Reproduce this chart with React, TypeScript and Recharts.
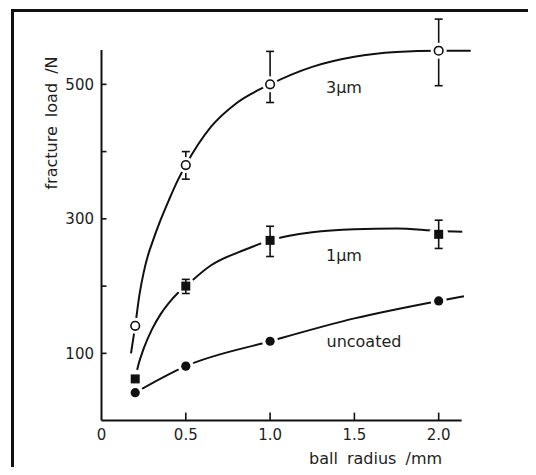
import React from 'react';
import { ComposedChart, Line, XAxis, YAxis, ErrorBar, ReferenceLine } from 'recharts';

// ---- data ----
const xTicks = [0, 0.5, 1.0, 1.5, 2.0];
const xTickLabels = ['0', '0.5', '1.0', '1.5', '2.0'];
const yTicks = [100, 200, 300, 400, 500];
const yTickLabels = ['100', '', '300', '', '500'];

const radius = [0.2, 0.5, 1.0, 2.0];
const load3um = [141, 380, 500, 550];
const err3um: (number[] | null)[] = [null, [21, 20], [27, 49], [52, 47]];
const load1um = [62, 200, 268, 277];
const err1um: (number[] | null)[] = [null, [11, 10], [24, 21], [21, 21]];
const loadUncoated = [41.5, 81, 118, 178];

// hand-drawn fit curves
const fit3umX = [0.175, 0.2, 0.225, 0.25, 0.275, 0.3, 0.35, 0.4, 0.45, 0.5, 0.65, 0.8, 1.0, 1.25, 1.5, 1.75, 2.0, 2.19];
const fit3umY = [100, 141, 187, 220, 245, 264, 298, 328, 356, 380, 437, 472, 500, 526, 541, 548, 550, 550];
const fit1umX = [0.2, 0.22, 0.25, 0.3, 0.35, 0.4, 0.45, 0.5, 0.65, 0.85, 1.0, 1.25, 1.5, 1.75, 2.0, 2.14];
const fit1umY = [62, 84, 107, 136, 158, 175, 189, 200, 231, 254, 268, 280, 284.5, 285.5, 282, 281];
const fitUncX = [0.2, 0.5, 1.0, 1.5, 2.0, 2.15];
const fitUncY = [41.5, 81, 118, 152, 178, 185];

const xAxisEnd = 2.136;
const yAxisEnd = 551;

// ---- tables for the library ----
const pts = (ys: number[], errs?: (number[] | null)[]) =>
  radius.map((x, i) => ({ x, y: ys[i], err: errs && errs[i] ? errs[i] : undefined }));
const curve = (xs: number[], ys: number[]) => xs.map((x, i) => ({ x, y: ys[i] }));

const data3 = pts(load3um, err3um);
const data1 = pts(load1um, err1um);
const dataU = pts(loadUncoated);
const curve3 = curve(fit3umX, fit3umY);
const curve1 = curve(fit1umX, fit1umY);
const curveU = curve(fitUncX, fitUncY);

const INK = '#111';
const TEXT = '#1e1e1e';
const FONT = '"DejaVu Sans", sans-serif';

const XTick = (props: any) => {
  const { x, y, payload } = props;
  const i = xTicks.indexOf(payload.value);
  return (
    <g>
      {payload.value !== 0 && <line x1={x} x2={x} y1={y} y2={y - 8} stroke={INK} strokeWidth={1.6} />}
      <text x={x} y={y + 19.5} textAnchor="middle" fontSize={15} fill={TEXT} fontFamily={FONT}>
        {xTickLabels[i]}
      </text>
    </g>
  );
};

const YTick = (props: any) => {
  const { x, y, payload } = props;
  const i = yTicks.indexOf(payload.value);
  return (
    <g>
      <line x1={x} x2={x + 5} y1={y} y2={y} stroke={INK} strokeWidth={1.6} />
      {yTickLabels[i] && (
        <text x={x - 7.5} y={y + 5.5} textAnchor="end" fontSize={15} fill={TEXT} fontFamily={FONT}>
          {yTickLabels[i]}
        </text>
      )}
    </g>
  );
};

const makeHalo = (r: number) => (p: any) =>
  <circle key={`h${p.index}`} cx={p.cx} cy={p.cy} r={r} fill="#ffffff" stroke="none" />;
const Halo3 = makeHalo(8);
const Halo1 = makeHalo(9.5);
const HaloU = makeHalo(8);
const OpenCircle = (p: any) => (
  <circle key={`o${p.index}`} cx={p.cx} cy={p.cy} r={4.3} fill="#fff" stroke={INK} strokeWidth={1.6} />
);
const FilledSquare = (p: any) => (
  <rect key={`s${p.index}`} x={p.cx - 4.5} y={p.cy - 4.5} width={9} height={9} fill={INK} />
);
const FilledDot = (p: any) => <circle key={`d${p.index}`} cx={p.cx} cy={p.cy} r={4.6} fill={INK} />;

const common = { dataKey: 'y', isAnimationActive: false, activeDot: false, legendType: 'none' as const };

export default function App() {
  return (
    <div style={{ margin: -8, width: 536, height: 475, position: 'relative', background: '#fff', overflow: 'hidden' }}>
      <div
        style={{
          position: 'absolute',
          left: 11,
          top: 9,
          right: 0,
          bottom: 0,
          borderLeft: `3px solid ${INK}`,
          borderTop: `3px solid ${INK}`,
        }}
      />
      <div style={{ position: 'absolute', left: 0, top: 0 }}>
        <ComposedChart width={536} height={475} margin={{ left: 61.5, right: 63.6, top: 17.1, bottom: 24.4 }}>
          <XAxis dataKey="x" type="number" domain={[0, 2.2]} ticks={xTicks} height={30} axisLine={false} tickLine={false} tickSize={0} tickMargin={0} tick={<XTick />} allowDataOverflow />
          <YAxis type="number" domain={[0, 600]} ticks={yTicks} width={40} axisLine={false} tickLine={false} tickSize={0} tickMargin={0} tick={<YTick />} allowDataOverflow />
          <ReferenceLine segment={[{ x: 0, y: 0 }, { x: xAxisEnd, y: 0 }]} stroke={INK} strokeWidth={2} ifOverflow="visible" />
          <ReferenceLine segment={[{ x: 0, y: 0 }, { x: 0, y: yAxisEnd }]} stroke={INK} strokeWidth={2} ifOverflow="visible" />

          {/* fitted curves */}
          <Line {...common} data={curve3} type="monotone" stroke={INK} strokeWidth={2} dot={false} />
          <Line {...common} data={curve1} type="monotone" stroke={INK} strokeWidth={2} dot={false} />
          <Line {...common} data={curveU} type="monotone" stroke={INK} strokeWidth={2} dot={false} />

          {/* white gaps around the measured points */}
          <Line {...common} data={data3} stroke="none" dot={Halo3} />
          <Line {...common} data={data1} stroke="none" dot={Halo1} />
          <Line {...common} data={dataU} stroke="none" dot={HaloU} />

          {/* measured points with error bars */}
          <Line {...common} data={data3} stroke="none" dot={OpenCircle}>
            <ErrorBar dataKey="err" direction="y" width={4} stroke={INK} strokeWidth={1.6} isAnimationActive={false} />
          </Line>
          <Line {...common} data={data1} stroke="none" dot={FilledSquare}>
            <ErrorBar {...{ zIndex: 1000 }} dataKey="err" direction="y" width={4} stroke={INK} strokeWidth={1.6} isAnimationActive={false} />
          </Line>
          <Line {...common} data={dataU} stroke="none" dot={FilledDot} />
        </ComposedChart>
      </div>
      <svg width={536} height={475} style={{ position: 'absolute', left: 0, top: 0, pointerEvents: 'none' }}>
        <g fontFamily={FONT} fill={TEXT} fontSize={16}>
          <text x={326} y={93}>3μm</text>
          <text x={326} y={260.5}>1μm</text>
          <text x={326.5} y={346.5}>uncoated</text>
          <text x={309} y={464} wordSpacing={4}>ball radius /mm</text>
          <text x={56.5} y={123} textAnchor="middle" wordSpacing={4} transform="rotate(-90 56.5 123)">
            fracture load /N
          </text>
        </g>
      </svg>
    </div>
  );
}
